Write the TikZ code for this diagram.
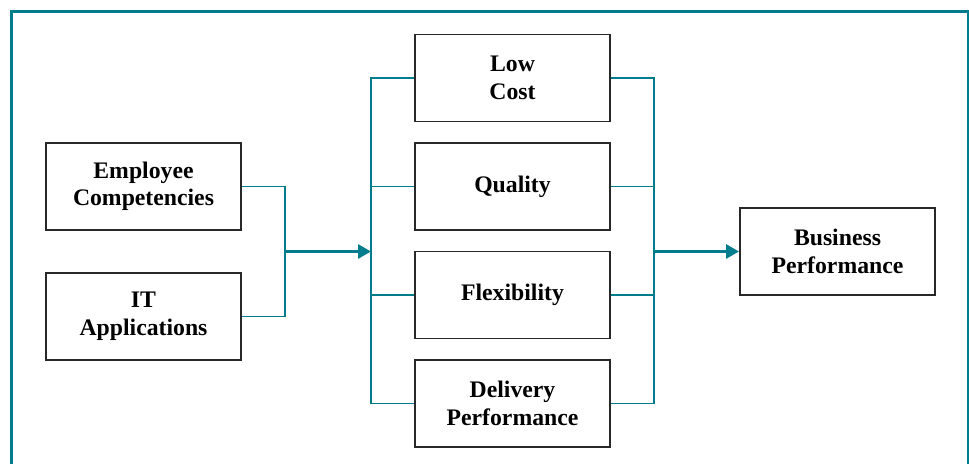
\documentclass[tikz,border=0pt]{standalone}
\usepackage[usenames]{xcolor}
\usepackage{fontspec}
\setmainfont{Liberation Serif}
\usepackage{tikz}
\usetikzlibrary{positioning}
\usetikzlibrary{arrows.meta}

\definecolor{lineteal}{RGB}{0,125,140}
\definecolor{boxgray}{RGB}{40,40,40}

\begin{document}
\begin{tikzpicture}[
		box/.style={draw=boxgray,line width=1.1pt,minimum width=3.9cm,minimum height=1.74cm,align=center,
			font=\bfseries\fontsize{13.5}{15.7}\selectfont},
		link/.style={lineteal,line width=1.1pt},
		flow/.style={lineteal,line width=1.6pt,-{Triangle[length=0.26cm,width=0.28cm]}}
	]
			
			\useasboundingbox (0,0) rectangle (19.38,9.28);
			\draw[lineteal,line width=1.5pt] (0.226,0) |- (19.356,9.054) -- (19.356,0);
			
			\node[box] (EC) at (2.87,5.55) {Employee\\Competencies};
			\node[box] (IT) at (2.87,2.95) {IT\\Applications};
			
			\node[box] (LC) at (10.25,7.72) {Low\\Cost};
			\node[box] (QU) at (10.25,5.55) {Quality};
			\node[box] (FL) at (10.25,3.38) {Flexibility};
			\node[box] (DP) at (10.25,1.21) {Delivery\\Performance};
			
			\node[box] (BP) at (16.75,4.25) {Business\\Performance};
			
			\coordinate (M1) at (5.70,4.25);
			\coordinate (L1) at (7.42,4.25);
			\coordinate (R1) at (13.08,4.25);
			
			\draw[link] (EC.east) -| (M1);
			\draw[link] (IT.east) -| (M1);
			\draw[flow] (M1) -- (L1);
			
			\draw[link] (LC.west) -| (L1);
			\draw[link] (QU.west) -| (L1);
			\draw[link] (FL.west) -| (L1);
			\draw[link] (DP.west) -| (L1);
			
			\draw[link] (LC.east) -| (R1);
			\draw[link] (QU.east) -| (R1);
			\draw[link] (FL.east) -| (R1);
			\draw[link] (DP.east) -| (R1);
			\draw[flow] (R1) -- (BP.west);
			
		\end{tikzpicture}
\end{document}
